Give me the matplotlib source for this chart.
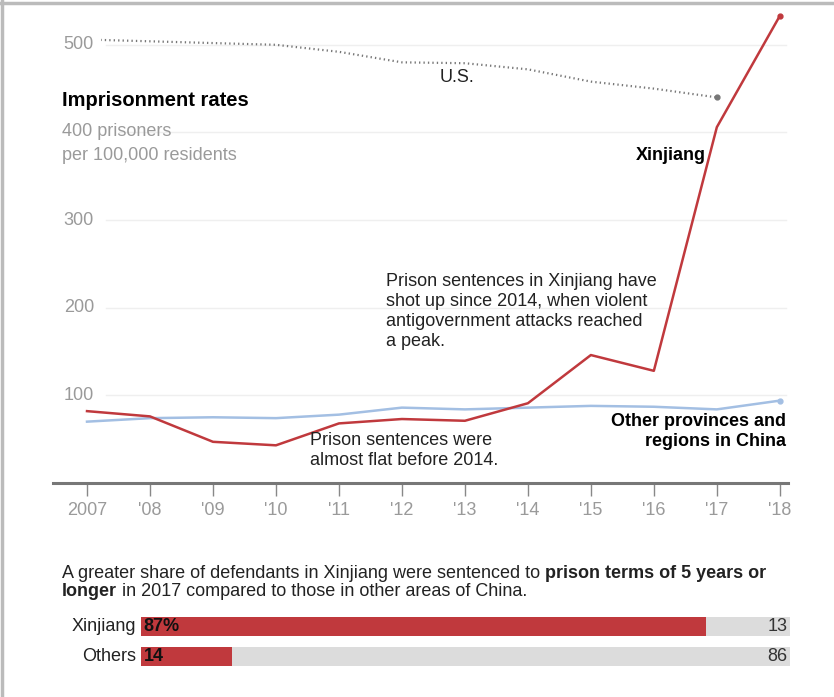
import matplotlib.pyplot as plt

plt.rcParams['font.family'] = ['Liberation Sans', 'DejaVu Sans']

# data
years = [2007, 2008, 2009, 2010, 2011, 2012, 2013, 2014, 2015, 2016, 2017, 2018]
year_labels = ['2007', "'08", "'09", "'10", "'11", "'12", "'13", "'14", "'15", "'16", "'17", "'18"]
xinjiang = [82, 76, 47, 43, 68, 73, 71, 91, 146, 128, 406, 533]
others = [70, 74, 75, 74, 78, 86, 84, 86, 88, 87, 84, 94]
us_years = years[:11]
us = [506, 504, 502, 500, 492, 480, 479, 472, 458, 450, 440]

bar_groups = ['Xinjiang', 'Others']
long_terms = [87, 14]
short_terms = [13, 86]

RED = '#c0393d'
BLUE = '#a3bfe3'
GREY_TXT = '#9a9a9a'
FS = 13
W, H = 834, 697

fig = plt.figure(figsize=(W / 100, H / 100), dpi=100)


def box(x0, y0, x1, y1):
    return [x0 / W, 1 - y1 / H, (x1 - x0) / W, (y1 - y0) / H]


def px(x, y):
    return x / W, 1 - y / H


# figure frame
fig.add_artist(plt.Line2D([0.002, 0.002], [0, 1], color='#bbbbbb', lw=2.5))
fig.add_artist(plt.Line2D([0, 1], [0.996, 0.996], color='#bbbbbb', lw=2.5))

# line chart
ax = fig.add_axes(box(53, 8, 788, 483))
ax.set_xlim(2006.46, 2018.13)
ax.set_ylim(0, 542)
for s in ['top', 'right', 'left']:
    ax.spines[s].set_visible(False)
ax.spines['bottom'].set_color('#777777')
ax.spines['bottom'].set_linewidth(2.2)
ax.set_yticks([])
ax.set_xticks(years)
ax.set_xticklabels(year_labels, color=GREY_TXT, fontsize=FS)
ax.tick_params(axis='x', length=9, width=1, color='#888888', pad=5)

for v in [100, 200, 300, 400, 500]:
    start = 2007.3 if v != 400 else 2007.5
    ax.plot([start, 2018.1], [v, v], color='#efefef', lw=1, zorder=0)
for v in [100, 200, 300, 500]:
    ax.text(2006.63, v, str(v), color=GREY_TXT, fontsize=FS, va='center', ha='left',
            bbox=dict(fc='white', ec='none', pad=5), zorder=3)

ax.plot(us_years, us, color='#777777', lw=1.6, ls=(0, (0.6, 1.4)), zorder=2)
ax.plot(us_years[-1], us[-1], 'o', color='#777777', ms=3.5, zorder=2)
ax.plot(years, others, color=BLUE, lw=1.8, zorder=2)
ax.plot(years[-1], others[-1], 'o', color=BLUE, ms=3.5, zorder=2)
ax.plot(years, xinjiang, color=RED, lw=1.8, zorder=3)
ax.plot(years[-1], xinjiang[-1], 'o', color=RED, ms=3.5, zorder=3)

fig.text(*px(62, 100), 'Imprisonment rates', fontsize=14.5, fontweight='bold', va='center')
fig.text(*px(62, 131), '400 prisoners', fontsize=FS, color=GREY_TXT, va='center')
fig.text(*px(62, 155), 'per 100,000 residents', fontsize=FS, color=GREY_TXT, va='center')
fig.text(*px(457, 77), 'U.S.', fontsize=FS, ha='center', va='center', color='#222222')
fig.text(*px(706, 156), 'Xinjiang', fontsize=FS, fontweight='bold', ha='right', va='center')
fig.text(*px(386, 273), 'Prison sentences in Xinjiang have\nshot up since 2014, when violent\n'
         'antigovernment attacks reached\na peak.', fontsize=FS, va='top', linespacing=1.22,
         color='#222222')
fig.text(*px(310, 432), 'Prison sentences were\nalmost flat before 2014.', fontsize=FS, va='top',
         linespacing=1.22, color='#222222')
fig.text(*px(786, 413), 'Other provinces and\nregions in China', fontsize=FS, fontweight='bold',
         va='top', ha='right', linespacing=1.22)

# mixed-weight note
renderer = fig.canvas.get_renderer()
parts1 = [('A greater share of defendants in Xinjiang were sentenced to ', 'normal'),
          ('prison terms of 5 years or', 'bold')]
parts2 = [('longer', 'bold'), (' in 2017 compared to those in other areas of China.', 'normal')]
for parts, yy in [(parts1, 573), (parts2, 592)]:
    x = 62
    for s, wgt in parts:
        t = fig.text(*px(x, yy), s, fontsize=FS, fontweight=wgt, va='center', color='#222222')
        x = t.get_window_extent(renderer).x1

# bars
bx = fig.add_axes(box(141, 610, 790, 673))
bx.set_xlim(0, 100)
bx.set_ylim(1.55, -0.55)
bx.axis('off')
ypos = list(range(len(bar_groups)))
bx.barh(ypos, [100] * len(ypos), height=0.62, color='#dcdcdc')
bx.barh(ypos, long_terms, height=0.62, color=RED)
for i, g in enumerate(bar_groups):
    bx.text(-0.8, i, g, ha='right', va='center', fontsize=FS, color='#222222')
    lab = f'{long_terms[i]}%' if i == 0 else str(long_terms[i])
    bx.text(0.4, i, lab, ha='left', va='center', fontsize=FS, fontweight='bold', color='#111111')
    bx.text(99.6, i, str(short_terms[i]), ha='right', va='center', fontsize=FS, color='#333333')

fig.savefig('out.png', dpi=100)
